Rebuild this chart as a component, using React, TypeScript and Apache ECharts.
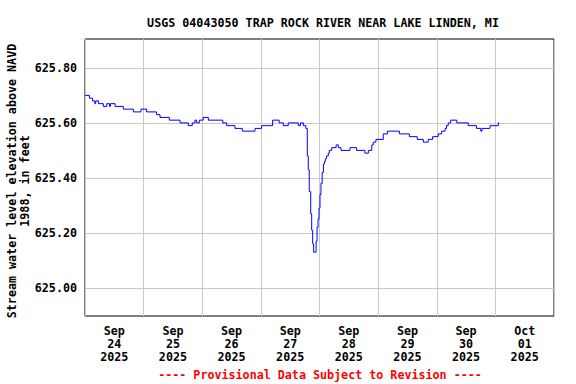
import React, { useEffect, useRef } from "react";
import * as echarts from "echarts";

// Hours since Sep 24 2025 00:00 and stream water level (ft)
const hours: number[] = [
  0, 1.8, 3.1, 4.0, 4.4, 5.5, 7.5, 8.9, 10.0, 10.4, 12.3, 15.7, 19.8, 22.9, 25.2, 29.3, 30.7, 34.5,
  38.9, 42.3, 43.9, 45.0, 45.7, 46.8, 48.4, 50.5, 56.4, 58.0, 61.4, 64.4, 69.6, 72.3,
  76.8, 79.5, 81.2, 83.2, 87.3, 88.2, 89.4, 90.4,
  91.0, 91.4, 91.8, 92.4, 92.8, 93.2, 93.6, 94.2, 94.6, 95.0, 95.4, 95.8, 96.2, 96.6,
  97.1, 97.6, 98.0, 98.4, 98.9, 99.6, 100.0, 101.0, 102.8, 103.7, 104.8, 108.5, 111.2,
  114.6, 116.0, 117.4, 118.0, 119.1, 122.1, 123.8, 128.7, 132.8, 136.0, 138.5, 140.5,
  142.3, 144.6, 146.0, 147.4, 148.0, 148.7, 149.7, 152.2, 156.9, 160.3, 162.0, 162.5,
  165.8, 169.2, 169.6,
];
const levels: number[] = [
  625.7, 625.69, 625.68, 625.67, 625.68, 625.67, 625.66, 625.67, 625.66, 625.67, 625.66, 625.65, 625.64, 625.65, 625.64, 625.63, 625.62, 625.61,
  625.6, 625.59, 625.6, 625.61, 625.6, 625.61, 625.62, 625.61, 625.6, 625.59, 625.58, 625.57, 625.58, 625.59,
  625.61, 625.6, 625.59, 625.6, 625.59, 625.6, 625.59, 625.58,
  625.48, 625.43, 625.35, 625.27, 625.21, 625.16, 625.13, 625.13, 625.17, 625.22, 625.25, 625.29, 625.34, 625.38,
  625.42, 625.45, 625.46, 625.47, 625.48, 625.49, 625.5, 625.51, 625.52, 625.51, 625.5, 625.51, 625.5,
  625.49, 625.5, 625.52, 625.53, 625.54, 625.56, 625.57, 625.56, 625.55, 625.54, 625.53, 625.54,
  625.55, 625.56, 625.57, 625.58, 625.59, 625.6, 625.61, 625.6, 625.59, 625.58, 625.57, 625.58,
  625.59, 625.6, 625.6,
];

const xLabelHours: number[] = [12, 36, 60, 84, 108, 132, 156, 180];
const xLabels: string[] = [
  "Sep\n24\n2025", "Sep\n25\n2025", "Sep\n26\n2025", "Sep\n27\n2025",
  "Sep\n28\n2025", "Sep\n29\n2025", "Sep\n30\n2025", "Oct\n01\n2025",
];
const yTicks: number[] = [625.0, 625.2, 625.4, 625.6, 625.8];

const title = "USGS 04043050 TRAP ROCK RIVER NEAR LAKE LINDEN, MI";
const yName = "Stream water level elevation above NAVD\n1988, in feet";
const footer = "---- Provisional Data Subject to Revision ----";

const FONT = "'DejaVu Sans Mono', 'Liberation Mono', monospace";

export default function App() {
  const ref = useRef<HTMLDivElement>(null);
  useEffect(() => {
    if (!ref.current) return;
    const chart = echarts.init(ref.current, null, { renderer: "svg" });
    const data = hours.map((h, i) => [h, levels[i]]);
    chart.setOption({
      animation: false,
      backgroundColor: "#ffffff",
      grid: {
        left: 85, top: 39, width: 469, height: 277,
        show: true, borderColor: "#000000", borderWidth: 1, backgroundColor: "transparent",
      },
      title: {
        text: title, left: 318, top: 12, textAlign: "center",
        textStyle: { fontFamily: FONT, fontSize: 11.7, fontWeight: "bold", color: "#000" },
      },
      graphic: [
        {
          type: "text", x: 18, y: 181, rotation: Math.PI / 2,
          style: {
            text: yName, textAlign: "center", textVerticalAlign: "middle",
            font: `bold 11.7px ${FONT}`, fill: "#000", lineHeight: 13,
          },
        },
        {
          type: "text", x: 320, y: 375,
          style: {
            text: footer, textAlign: "center", textVerticalAlign: "middle",
            font: `bold 11.7px ${FONT}`, fill: "#ff0000",
          },
        },
      ],
      xAxis: {
        type: "value", min: 0, max: 192, interval: 24,
        axisLine: { show: false }, axisTick: { show: false },
        splitLine: { show: true, lineStyle: { color: "#c8c8c8", width: 1 } },
        axisLabel: {
          customValues: xLabelHours,
          formatter: (v: number) => {
            const i = xLabelHours.indexOf(v);
            return i >= 0 ? xLabels[i] : "";
          },
          fontFamily: FONT, fontSize: 11.7, fontWeight: "bold", color: "#000",
          lineHeight: 13, margin: 8,
        },
      },
      yAxis: {
        type: "value", min: 624.898, max: 625.905,
        axisLine: { show: false },
        axisTick: { show: false, customValues: yTicks },
        splitLine: { show: true, lineStyle: { color: "#c8c8c8", width: 1 } },
        axisLabel: {
          customValues: yTicks,
          formatter: (v: number) => v.toFixed(2),
          fontFamily: FONT, fontSize: 11.7, fontWeight: "bold", color: "#000", margin: 8,
        },
      },
      series: [
        {
          type: "line", data, step: "end", showSymbol: false, symbol: "none",
          lineStyle: { color: "#0000ff", width: 1 },
        },
      ],
    });
    return () => chart.dispose();
  }, []);
  return <div ref={ref} style={{ width: 576, height: 384, position: "absolute", left: 0, top: 0 }} />;
}
